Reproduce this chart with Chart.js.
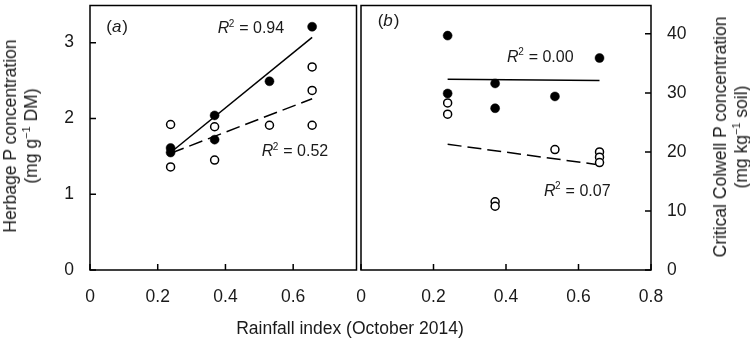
<!DOCTYPE html>
<html lang="en">
<head>
  <meta charset="UTF-8" />
  <title>Herbage P and critical Colwell P vs rainfall index</title>
  <script src="https://cdn.jsdelivr.net/npm/chart.js"></script>
  <style>
    body { margin: 0; background: #fff; font-family: 'Liberation Sans', Arial, sans-serif; color: #1a1a1a; }
    .wrap { position: relative; width: 750px; height: 339px; overflow: hidden; }
    #chartA { position: absolute; left: 0; top: 0; }
    #chartB { position: absolute; left: 340px; top: 0; }
    .title { position: absolute; font-size: 17.5px; line-height: 21px; white-space: nowrap; text-align: center; }
    .vt { transform: translate(-50%, -50%) rotate(-90deg); }
    .ht { transform: translate(-50%, -50%); }
    sup { font-size: 11px; line-height: 0; }
  </style>
</head>
<body>
  <div class="wrap">
    <canvas id="chartA" width="362" height="339"></canvas>
    <canvas id="chartB" width="410" height="339"></canvas>
    <div class="title vt" style="left:21px; top:136px;">Herbage P concentration<br>(mg g<sup>−1</sup> DM)</div>
    <div class="title vt" style="left:731px; top:137px;">Critical Colwell P concentration<br>(mg kg<sup>−1</sup> soil)</div>
    <div class="title ht" style="left:350px; top:328px;">Rainfall index (October 2014)</div>
  </div>

  <script>
    // tick labels
    const xTicksA = [0, 0.2, 0.4, 0.6];
    const yTicksA = [0, 1, 2, 3];
    const xTicksB = [0, 0.2, 0.4, 0.6, 0.8];
    const yTicksB = [0, 10, 20, 30, 40];

    // panel (a): herbage P (mg/g DM)
    const herbFilledX = [0.238, 0.238, 0.368, 0.368, 0.530, 0.656];
    const herbFilledY = [1.61, 1.55, 2.04, 1.72, 2.49, 3.21];
    const herbOpenX = [0.238, 0.238, 0.368, 0.368, 0.530, 0.656, 0.656, 0.656];
    const herbOpenY = [1.92, 1.36, 1.89, 1.45, 1.91, 2.68, 2.37, 1.91];
    const herbFitX = [0.238, 0.656];
    const herbFitFilledY = [1.55, 3.07];
    const herbFitOpenY = [1.54, 2.26];
    const herbR2 = ['0.94', '0.52'];

    // panel (b): critical Colwell P (mg/kg soil)
    const colFilledX = [0.239, 0.239, 0.370, 0.370, 0.535, 0.658];
    const colFilledY = [39.7, 29.9, 31.6, 27.4, 29.4, 35.9];
    const colOpenX = [0.239, 0.239, 0.370, 0.370, 0.535, 0.658, 0.658, 0.658];
    const colOpenY = [28.3, 26.4, 11.55, 10.8, 20.4, 20.0, 19.1, 18.2];
    const colFitX = [0.239, 0.658];
    const colFitFilledY = [32.3, 32.1];
    const colFitOpenY = [21.3, 17.8];
    const colR2 = ['0.00', '0.07'];

    const FONT = '"Liberation Sans", Arial, sans-serif';
    const INK = '#1a1a1a';

    function pts(xs, ys) {
      return xs.map((x, i) => ({ x: x, y: ys[i] }));
    }

    function datasets(fx, fy, ox, oy, lx, lfy, loy) {
      return [
        { data: pts(fx, fy), backgroundColor: '#000', borderColor: '#000', pointRadius: 4.5, borderWidth: 0.5 },
        { data: pts(ox, oy), backgroundColor: '#fff', borderColor: '#000', pointRadius: 4, borderWidth: 1.5 },
        { data: pts(lx, lfy), showLine: true, borderColor: '#000', borderWidth: 1.5, pointRadius: 0 },
        { data: pts(lx, loy), showLine: true, borderColor: '#000', borderWidth: 1.5, borderDash: [14, 6], pointRadius: 0 }
      ];
    }

    // draws box, inward ticks, panel tag and R² labels
    const panelDecor = {
      id: 'panelDecor',
      afterDraw(chart, args, opts) {
        const { ctx, chartArea: a, scales } = chart;
        const xs = scales.x, ys = scales.y;
        ctx.save();
        ctx.strokeStyle = '#000';
        ctx.lineWidth = 1.5;
        ctx.strokeRect(a.left, a.top, a.right - a.left, a.bottom - a.top);

        ctx.beginPath();
        xs.ticks.forEach(t => {
          const px = xs.getPixelForValue(t.value);
          ctx.moveTo(px, a.bottom);
          ctx.lineTo(px, a.bottom - 6);
        });
        const x0 = opts.side === 'right' ? a.right : a.left;
        const dir = opts.side === 'right' ? -1 : 1;
        ys.ticks.forEach(t => {
          const py = ys.getPixelForValue(t.value);
          ctx.moveTo(x0, py);
          ctx.lineTo(x0 + dir * 6, py);
        });
        ctx.stroke();

        ctx.fillStyle = INK;
        ctx.textBaseline = 'middle';
        ctx.textAlign = 'left';

        // panel tag, e.g. (a)
        let px = xs.getPixelForValue(opts.tag.x);
        let py = ys.getPixelForValue(opts.tag.y);
        ctx.font = '17px ' + FONT;
        ctx.fillText('(', px, py);
        px += ctx.measureText('(').width;
        ctx.font = 'italic 17px ' + FONT;
        ctx.fillText(opts.tag.text, px, py);
        px += ctx.measureText(opts.tag.text).width + 1;
        ctx.font = '17px ' + FONT;
        ctx.fillText(')', px, py);

        // R² labels
        opts.r2.forEach((lab, i) => {
          let lx = xs.getPixelForValue(opts.r2pos[i].x);
          const ly = ys.getPixelForValue(opts.r2pos[i].y);
          ctx.font = 'italic 16px ' + FONT;
          ctx.fillText('R', lx, ly);
          lx += ctx.measureText('R').width;
          ctx.font = '10px ' + FONT;
          ctx.fillText('2', lx - 0.5, ly - 5);
          lx += ctx.measureText('2').width;
          ctx.font = '16px ' + FONT;
          ctx.fillText(' = ' + lab, lx, ly);
        });
        ctx.restore();
      }
    };

    const tickStyle = (pad) => ({ padding: pad, color: INK, font: { size: 17.5, family: FONT }, callback: v => String(v) });

    function axis(min, max, tickList, opts) {
      return Object.assign({
        type: 'linear',
        min: min,
        max: max,
        afterBuildTicks: s => { s.ticks = tickList.map(v => ({ value: v })); },
        grid: { display: false, drawTicks: false },
        border: { display: false }
      }, opts);
    }

    // fixed axis boxes so the plot areas land where the reference has them
    const fitX = s => { s.height = 69; s.paddingLeft = 0; s.paddingRight = 0; };
    const fitY = w => s => { s.width = w; s.paddingTop = 0; s.paddingBottom = 0; };

    new Chart(document.getElementById('chartA'), {
      type: 'scatter',
      data: { datasets: datasets(herbFilledX, herbFilledY, herbOpenX, herbOpenY, herbFitX, herbFitFilledY, herbFitOpenY) },
      options: {
        responsive: false,
        animation: false,
        events: [],
        layout: { padding: { left: 0, top: 1, right: 1, bottom: 0 } },
        plugins: {
          legend: { display: false },
          tooltip: { enabled: false },
          panelDecor: {
            side: 'left',
            tag: { text: 'a', x: 0.048, y: 3.2 },
            r2: herbR2,
            r2pos: [{ x: 0.377, y: 3.18 }, { x: 0.507, y: 1.56 }]
          }
        },
        scales: {
          x: axis(0, 0.787, xTicksA, { afterFit: fitX, ticks: tickStyle(17) }),
          y: axis(0, 3.49, yTicksA, { position: 'left', afterFit: fitY(90), ticks: tickStyle(16) })
        }
      },
      plugins: [panelDecor]
    });

    new Chart(document.getElementById('chartB'), {
      type: 'scatter',
      data: { datasets: datasets(colFilledX, colFilledY, colOpenX, colOpenY, colFitX, colFitFilledY, colFitOpenY) },
      options: {
        responsive: false,
        animation: false,
        events: [],
        layout: { padding: { left: 21, top: 1, right: 0, bottom: 0 } },
        plugins: {
          legend: { display: false },
          tooltip: { enabled: false },
          panelDecor: {
            side: 'right',
            tag: { text: 'b', x: 0.046, y: 42.2 },
            r2: colR2,
            r2pos: [{ x: 0.403, y: 36 }, { x: 0.505, y: 13.3 }]
          }
        },
        scales: {
          x: axis(0, 0.8, xTicksB, { afterFit: fitX, ticks: tickStyle(17) }),
          y: axis(0, 44.8, yTicksB, { position: 'right', afterFit: fitY(99), ticks: tickStyle(16) })
        }
      },
      plugins: [panelDecor]
    });
  </script>
</body>
</html>
